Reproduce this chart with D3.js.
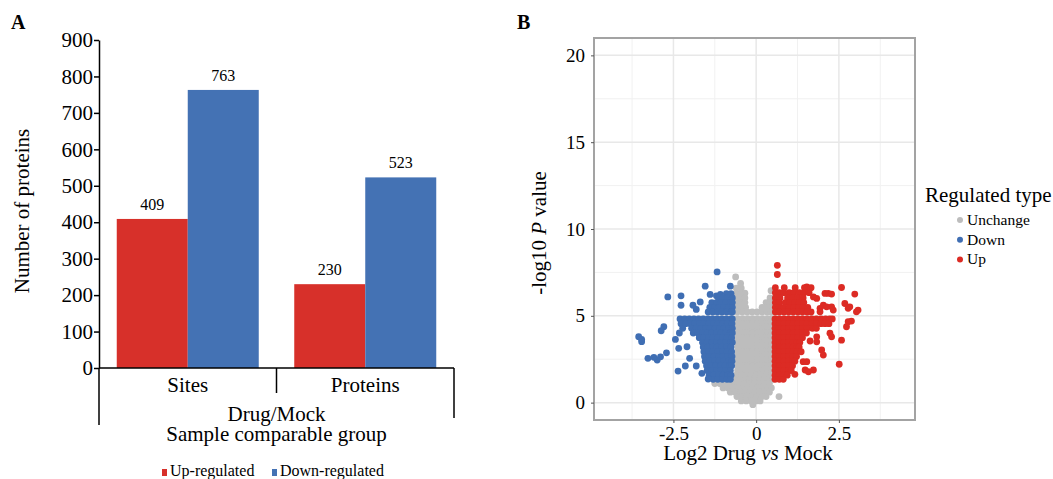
<!DOCTYPE html>
<html>
<head>
<meta charset="utf-8">
<script src="https://cdn.jsdelivr.net/npm/d3@7"></script>
<style>
  body { margin: 0; background: #fff; }
  svg text { font-family: "Liberation Serif", "Times New Roman", serif; fill: #000; }
</style>
</head>
<body>
<script>
// panel A data
const groups = ["Sites", "Proteins"];
const series = ["Up-regulated", "Down-regulated"];
const upCounts = [409, 230];
const downCounts = [763, 523];
const yTicksA = [0, 100, 200, 300, 400, 500, 600, 700, 800, 900];

// panel B data, rows written as [-log10 P, log2FC, log2FC, ...]
const unchangeRows = [
  [7.24, -0.62], [6.86, -0.47], [6.6, -0.6, -0.45], [6.3, -0.6, -0.46, -0.34],
  [6.03, -0.6, -0.46, -0.34, 0.42], [5.76, -0.6, -0.46, -0.34, 0.3, 0.44],
  [5.49, -0.58, -0.44, -0.32, 0.18, 0.32, 0.44], [6.45, 0.45],
  [5.22, -0.57, -0.42, -0.27, -0.12, 0.03, 0.18, 0.33, 0.45],
  [4.82, -0.56, -0.41, -0.26, -0.11, 0.04, 0.19, 0.34, 0.46],
  [4.55, -0.56, -0.41, -0.26, -0.11, 0.04, 0.19, 0.34, 0.46],
  [4.28, -0.56, -0.41, -0.26, -0.11, 0.04, 0.19, 0.34, 0.46],
  [4.01, -0.56, -0.41, -0.26, -0.11, 0.04, 0.19, 0.34, 0.46],
  [3.74, -0.56, -0.41, -0.26, -0.11, 0.04, 0.19, 0.34, 0.46],
  [3.47, -0.56, -0.41, -0.26, -0.11, 0.04, 0.19, 0.34, 0.46],
  [3.2, -0.56, -0.41, -0.26, -0.11, 0.04, 0.19, 0.34, 0.46],
  [2.93, -0.56, -0.41, -0.26, -0.11, 0.04, 0.19, 0.34, 0.46],
  [2.66, -0.56, -0.41, -0.26, -0.11, 0.04, 0.19, 0.34, 0.46],
  [2.39, -0.56, -0.41, -0.26, -0.11, 0.04, 0.19, 0.34, 0.46],
  [2.12, -0.56, -0.41, -0.26, -0.11, 0.04, 0.19, 0.34, 0.46],
  [1.85, -0.56, -0.41, -0.26, -0.11, 0.04, 0.19, 0.34, 0.46],
  [1.58, -0.6, -0.45, -0.3, -0.15, 0.0, 0.15, 0.3, 0.46],
  [1.34, -0.64, -0.49, -0.34, -0.19, -0.04, 0.11, 0.26, 0.4, 0.5],
  [1.1, -1.25, -1.1, -0.95, -0.8, -0.65, -0.5, -0.35, -0.2, -0.05, 0.1, 0.25, 0.4],
  [0.85, -1.0, -0.85, -0.7, -0.55, -0.4, -0.25, -0.1, 0.05, 0.2, 0.35, 0.46],
  [0.6, -0.78, -0.63, -0.48, -0.33, -0.18, -0.03, 0.12, 0.27, 0.4],
  [0.35, -0.58, -0.43, -0.28, -0.13, 0.02, 0.17, 0.3, 0.69],
  [0.1, -0.45, -0.3, -0.15, 0.0, 0.12], [-0.12, -0.1]
];
const downRows = [
  [7.53, -1.18], [6.71, -1.54, -0.78], [6.09, -2.67], [6.15, -2.27, -1.2],
  [5.61, -2.27, -1.91], [6.23, -1.39, -1.08], [5.8, -1.69], [5.37, -1.81],
  [6.28, -0.9, -0.76], [6.03, -1.14, -1.0, -0.86, -0.72],
  [5.76, -1.34, -1.2, -1.06, -0.92, -0.78, -0.72],
  [5.49, -1.4, -1.26, -1.12, -0.98, -0.84, -0.72],
  [5.22, -1.45, -1.31, -1.17, -1.03, -0.89, -0.75, -0.72],
  [4.82, -2.3, -2.16, -2.02, -1.88, -1.74, -1.6, -1.46, -1.32, -1.18, -1.04, -0.9, -0.76, -0.72],
  [4.55, -2.27, -2.13, -1.99, -1.85, -1.71, -1.57, -1.43, -1.29, -1.15, -1.01, -0.87, -0.73],
  [4.28, -2.22, -1.95, -1.81, -1.67, -1.53, -1.39, -1.25, -1.11, -0.97, -0.83, -0.72],
  [4.01, -2.32, -1.9, -1.76, -1.62, -1.48, -1.34, -1.2, -1.06, -0.92, -0.78, -0.72],
  [3.74, -1.72, -1.58, -1.44, -1.3, -1.16, -1.02, -0.88, -0.74],
  [3.47, -1.62, -1.48, -1.34, -1.2, -1.06, -0.92, -0.78, -0.72],
  [3.2, -1.6, -1.46, -1.32, -1.18, -1.04, -0.9, -0.76],
  [2.93, -1.58, -1.44, -1.3, -1.16, -1.02, -0.88, -0.74],
  [2.66, -1.56, -1.42, -1.28, -1.14, -1.0, -0.86, -0.73],
  [2.39, -1.54, -1.4, -1.26, -1.12, -0.98, -0.84, -0.73],
  [2.12, -1.5, -1.36, -1.22, -1.08, -0.94, -0.8, -0.74],
  [1.85, -1.48, -1.34, -1.2, -1.06, -0.92, -0.78],
  [1.58, -1.42, -1.28, -1.14, -1.0, -0.86, -0.76],
  [1.34, -1.3, -1.16, -1.02, -0.88, -0.78],
  [4.37, -2.79], [4.14, -2.87], [3.64, -3.46, -2.44], [3.51, -3.46], [3.8, -3.55],
  [3.13, -2.34], [3.22, -2.09], [2.87, -2.71], [2.64, -2.89], [2.45, -2.99],
  [2.55, -3.27, -2.01], [2.61, -3.09], [2.11, -2.14, -1.81], [1.82, -2.36],
  [1.69, -1.64], [1.36, -1.45]
];
const upRows = [
  [7.91, 0.64], [7.38, 0.64], [6.29, 2.18, 2.08], [6.63, 2.58], [6.25, 2.98, 2.28],
  [6.0, 1.83], [5.61, 2.03], [5.43, 1.93, 2.78], [5.52, 2.28, 2.13, 2.83],
  [5.71, 2.68], [5.23, 3.03, 1.93], [5.33, 2.33, 3.08], [6.09, 1.73], [6.67, 1.53],
  [4.66, 2.78], [4.7, 2.88], [4.37, 2.73], [3.79, 2.28, 1.83], [3.6, 2.58],
  [3.03, 1.98], [2.74, 2.03], [2.36, 1.42, 1.53], [1.88, 1.48, 1.73], [1.78, 1.58],
  [2.21, 2.51], [1.63, 1.17], [3.55, 1.63], [4.0, 2.23], [3.5, 1.83],
  [6.62, 0.58, 0.85, 1.18, 1.46, 1.66],
  [6.33, 0.58, 0.7, 0.84, 1.0, 1.14, 1.3, 1.45, 1.6],
  [6.03, 0.58, 0.72, 0.95, 1.1, 1.25, 1.42],
  [5.76, 0.58, 0.7, 0.88, 1.02, 1.16, 1.3, 1.44],
  [5.49, 0.58, 0.7, 0.84, 1.0, 1.14, 1.28, 1.42, 1.56],
  [5.22, 0.58, 0.7, 0.84, 0.98, 1.12, 1.26, 1.4, 1.54, 1.66],
  [4.82, 0.57, 0.7, 0.84, 0.98, 1.12, 1.26, 1.4, 1.54, 1.68, 1.82, 1.96, 2.1, 2.22, 2.3],
  [4.55, 0.57, 0.7, 0.84, 0.98, 1.12, 1.26, 1.4, 1.54, 1.68, 1.82, 1.96, 2.08, 2.2],
  [4.28, 0.57, 0.7, 0.84, 0.98, 1.12, 1.26, 1.4, 1.54, 1.7, 1.82],
  [4.01, 0.57, 0.7, 0.84, 0.98, 1.12, 1.26, 1.4, 1.52],
  [3.74, 0.57, 0.7, 0.84, 0.98, 1.12, 1.26, 1.4],
  [3.47, 0.57, 0.7, 0.84, 0.98, 1.12, 1.24, 1.32],
  [3.2, 0.57, 0.7, 0.84, 0.98, 1.12, 1.24, 1.3],
  [2.93, 0.57, 0.7, 0.84, 0.98, 1.12, 1.24, 1.36],
  [2.66, 0.57, 0.7, 0.84, 0.98, 1.12, 1.22],
  [2.39, 0.57, 0.7, 0.84, 0.98, 1.1, 1.17],
  [2.12, 0.57, 0.7, 0.84, 0.98, 1.1],
  [1.85, 0.57, 0.7, 0.84, 0.98, 1.06],
  [1.58, 0.57, 0.7, 0.84, 0.94],
  [1.34, 0.57, 0.7, 0.82]
];
const regTypes = ["Unchange", "Down", "Up"];
const xTicksB = [-2.5, 0, 2.5];
const yTicksB = [0, 5, 10, 15, 20];

const red = "#d7302a", blue = "#4472b4";
const typeColor = { Unchange: "#bdbdbd", Down: "#3f6eb3", Up: "#dc2b24" };

const svg = d3.select("body").append("svg")
    .attr("width", 1053)
    .attr("height", 479);

// ---------- panel A ----------
const gA = svg.append("g");
gA.append("text").attr("x", 11).attr("y", 29)
    .attr("font-size", 20).attr("font-weight", "bold").text("A");

const yA = d3.scaleLinear().domain([0, 900]).range([368, 40]);
const xCat = d3.scaleBand().domain(groups).range([99, 454]);
const xSub = d3.scaleBand().domain(series).range([0, xCat.bandwidth()]).paddingOuter(0.25);

gA.append("g")
    .attr("transform", "translate(99,0)")
    .call(d3.axisLeft(yA).tickValues(yTicksA).tickSize(5).tickSizeOuter(0).tickPadding(1))
    .call(g => g.selectAll("path,line").attr("stroke", "#000").attr("stroke-width", 1.5))
    .call(g => g.selectAll("text").attr("font-size", 21)
        .attr("font-family", "Liberation Serif, Times New Roman, serif").attr("fill", "#000"));

const barData = [];
groups.forEach((grp, i) => {
  barData.push({ grp, s: series[0], v: upCounts[i], c: red });
  barData.push({ grp, s: series[1], v: downCounts[i], c: blue });
});

gA.selectAll("rect.bar").data(barData).enter().append("rect")
    .attr("class", "bar")
    .attr("x", d => xCat(d.grp) + xSub(d.s))
    .attr("y", d => yA(d.v))
    .attr("width", xSub.bandwidth())
    .attr("height", d => yA(0) - yA(d.v))
    .attr("fill", d => d.c);

gA.selectAll("text.val").data(barData).enter().append("text")
    .attr("class", "val")
    .attr("x", d => xCat(d.grp) + xSub(d.s) + xSub.bandwidth() / 2)
    .attr("y", d => yA(d.v) - 9)
    .attr("text-anchor", "middle")
    .attr("font-size", 16)
    .text(d => d.v);

// category axis with separators
const xa = gA.append("g").attr("stroke", "#000").attr("stroke-width", 1.5);
xa.append("line").attr("x1", xCat.range()[0]).attr("x2", xCat.range()[1])
    .attr("y1", yA(0)).attr("y2", yA(0));
xa.append("line").attr("x1", xCat.range()[0]).attr("x2", xCat.range()[0])
    .attr("y1", yA(0)).attr("y2", 425);
xa.append("line").attr("x1", xCat("Proteins")).attr("x2", xCat("Proteins"))
    .attr("y1", yA(0)).attr("y2", 393);
xa.append("line").attr("x1", xCat.range()[1]).attr("x2", xCat.range()[1])
    .attr("y1", yA(0)).attr("y2", 418);

gA.selectAll("text.cat").data(groups).enter().append("text")
    .attr("class", "cat")
    .attr("x", d => xCat(d) + xCat.bandwidth() / 2)
    .attr("y", 392)
    .attr("text-anchor", "middle")
    .attr("font-size", 21)
    .text(d => d);

const midA = (xCat.range()[0] + xCat.range()[1]) / 2;
gA.append("text").attr("x", midA).attr("y", 421).attr("text-anchor", "middle")
    .attr("font-size", 21).text("Drug/Mock");
gA.append("text").attr("x", midA).attr("y", 441).attr("text-anchor", "middle")
    .attr("font-size", 21).text("Sample comparable group");

gA.append("text")
    .attr("transform", "translate(29,211) rotate(-90)")
    .attr("text-anchor", "middle")
    .attr("font-size", 21)
    .text("Number of proteins");

// legend A
const legA = gA.append("g");
const legAx = [162, 272];
series.forEach((s, i) => {
  legA.append("rect").attr("x", legAx[i]).attr("y", 469)
      .attr("width", 5).attr("height", 7).attr("fill", i === 0 ? red : blue);
  legA.append("text").attr("x", legAx[i] + 8).attr("y", 476)
      .attr("font-size", 16).text(s);
});

// ---------- panel B ----------
const gB = svg.append("g");
gB.append("text").attr("x", 517).attr("y", 29)
    .attr("font-size", 20).attr("font-weight", "bold").text("B");

const px0 = 594, px1 = 915, py0 = 38, py1 = 420;
const xB = d3.scaleLinear().domain([-4.9, 4.8]).range([px0, px1]);
const yB = d3.scaleLinear().domain([-1, 21]).range([py1, py0]);

gB.append("rect").attr("x", px0).attr("y", py0)
    .attr("width", px1 - px0).attr("height", py1 - py0).attr("fill", "#fff");

// grid
const grid = gB.append("g");
const xMinor = [-3.75, -1.25, 1.25, 3.75];
const yMinor = [2.5, 7.5, 12.5, 17.5];
grid.selectAll("line.xm").data(xMinor).enter().append("line")
    .attr("x1", d => xB(d)).attr("x2", d => xB(d)).attr("y1", py0).attr("y2", py1)
    .attr("stroke", "#f1f1f1").attr("stroke-width", 1);
grid.selectAll("line.ym").data(yMinor).enter().append("line")
    .attr("y1", d => yB(d)).attr("y2", d => yB(d)).attr("x1", px0).attr("x2", px1)
    .attr("stroke", "#f1f1f1").attr("stroke-width", 1);
grid.selectAll("line.xM").data(xTicksB).enter().append("line")
    .attr("x1", d => xB(d)).attr("x2", d => xB(d)).attr("y1", py0).attr("y2", py1)
    .attr("stroke", "#e8e8e8").attr("stroke-width", 1.5);
grid.selectAll("line.yM").data(yTicksB).enter().append("line")
    .attr("y1", d => yB(d)).attr("y2", d => yB(d)).attr("x1", px0).attr("x2", px1)
    .attr("stroke", "#e8e8e8").attr("stroke-width", 1.5);

// points
function flatten(rows, type) {
  const out = [];
  rows.forEach(r => r.slice(1).forEach(x => out.push({ x, y: r[0], type })));
  return out;
}
const points = flatten(unchangeRows, "Unchange")
    .concat(flatten(downRows, "Down"))
    .concat(flatten(upRows, "Up"));

gB.append("g").selectAll("circle").data(points).enter().append("circle")
    .attr("cx", d => xB(d.x))
    .attr("cy", d => yB(d.y))
    .attr("r", 3.4)
    .attr("fill", d => typeColor[d.type]);

gB.append("rect").attr("x", px0).attr("y", py0)
    .attr("width", px1 - px0).attr("height", py1 - py0)
    .attr("fill", "none").attr("stroke", "#a3a3a3").attr("stroke-width", 2);

// axes
gB.append("g")
    .attr("transform", `translate(${px0},0)`)
    .call(d3.axisLeft(yB).tickValues(yTicksB).tickSize(3).tickPadding(6))
    .call(g => g.select(".domain").remove())
    .call(g => g.selectAll("line").attr("stroke", "#555"))
    .call(g => g.selectAll("text").attr("font-size", 19)
        .attr("font-family", "Liberation Serif, Times New Roman, serif").attr("fill", "#000"));

gB.append("g")
    .attr("transform", `translate(0,${py1})`)
    .call(d3.axisBottom(xB).tickValues(xTicksB).tickFormat(d => d === 0 ? "0" : d).tickSize(3).tickPadding(4))
    .call(g => g.select(".domain").remove())
    .call(g => g.selectAll("line").attr("stroke", "#555"))
    .call(g => g.selectAll("text").attr("font-size", 19)
        .attr("font-family", "Liberation Serif, Times New Roman, serif").attr("fill", "#000"));

const xt = gB.append("text").attr("x", 748).attr("y", 460)
    .attr("text-anchor", "middle").attr("font-size", 21);
xt.append("tspan").text("Log2 Drug ");
xt.append("tspan").attr("font-style", "italic").text("vs");
xt.append("tspan").text(" Mock");

const yt = gB.append("text")
    .attr("transform", "translate(546,233) rotate(-90)")
    .attr("text-anchor", "middle").attr("font-size", 21);
yt.append("tspan").text("-log10 ");
yt.append("tspan").attr("font-style", "italic").text("P");
yt.append("tspan").text(" value");

// legend B
const legB = gB.append("g");
legB.append("text").attr("x", 925).attr("y", 202).attr("font-size", 21).text("Regulated type");
regTypes.forEach((t, i) => {
  legB.append("circle").attr("cx", 960).attr("cy", 220 + i * 19.7)
      .attr("r", 3).attr("fill", typeColor[t]);
  legB.append("text").attr("x", 967).attr("y", 225 + i * 19.7)
      .attr("font-size", 15.5).text(t);
});
</script>
</body>
</html>
